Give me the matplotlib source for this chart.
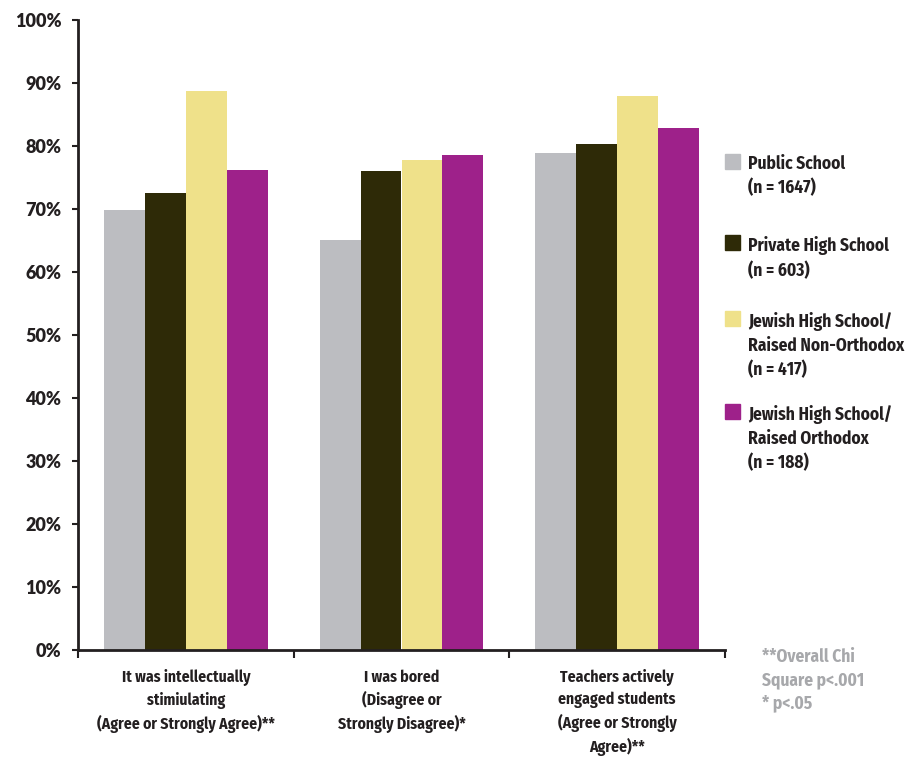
import matplotlib
matplotlib.use("Agg")
import matplotlib.pyplot as plt
from matplotlib import font_manager as fm
from matplotlib.patches import Rectangle
import numpy as np

categories = ["It was intellectually\nstimiulating\n(Agree or Strongly Agree)**",
              "I was bored\n(Disagree or\nStrongly Disagree)*",
              "Teachers actively\nengaged students\n(Agree or Strongly\nAgree)**"]
series_names = ["Public School\n(n = 1647)",
                "Private High School\n(n = 603)",
                "Jewish High School/\nRaised Non-Orthodox\n(n = 417)",
                "Jewish High School/\nRaised Orthodox\n(n = 188)"]
public = [69.9, 65.1, 78.9]
private = [72.5, 76.0, 80.3]
jewish_non_orth = [88.7, 77.7, 87.9]
jewish_orth = [76.2, 78.5, 82.8]
yticks = [0, 10, 20, 30, 40, 50, 60, 70, 80, 90, 100]
ytick_labels = [f"{v}%" for v in yticks]
footnote = "**Overall Chi\nSquare p<.001\n* p<.05"

colors = ["#bcbdc1", "#2e2a07", "#efe18a", "#9e218a"]
textc = "#231f20"

names = {f.name for f in fm.fontManager.ttflist}
cond = None
for cand in ["Fira Sans Condensed", "Roboto Condensed", "Liberation Sans Narrow",
             "Open Sans Condensed", "DejaVu Sans Condensed", "Noto Sans Condensed"]:
    if cand in names:
        cond = cand
        break
stretch = "normal"
if cond is None:
    cands = [f for f in fm.fontManager.ttflist
             if f.stretch in ("condensed", "semi-condensed", 75, 87.5) and "Sans" in f.name]
    if cands:
        cond = cands[0].name
        stretch = "condensed"
if cond is None:
    cond = "Roboto"
    fsz = 11
else:
    fsz = 12.5
fam = [cond, "DejaVu Sans"]
xfsz = fsz * 0.9

W, H = 909, 757
fig = plt.figure(figsize=(W / 100, H / 100), dpi=100)
ax = fig.add_axes([78 / W, (H - 650) / H, (725 - 78) / W, (650 - 20) / H])

x = np.arange(len(categories))
width = 0.19
offsets = [-1.5 * width, -0.5 * width, 0.5 * width, 1.5 * width]
for vals, off, c in zip([public, private, jewish_non_orth, jewish_orth], offsets, colors):
    ax.bar(x + off, vals, width=width, color=c, edgecolor="none", zorder=2)

ax.set_xlim(-0.5, 2.5)
ax.set_ylim(0, 100)
for s in ["top", "right"]:
    ax.spines[s].set_visible(False)
for s in ["left", "bottom"]:
    ax.spines[s].set_color(textc)
    ax.spines[s].set_linewidth(2)
    ax.spines[s].set_zorder(3)

ax.set_yticks(yticks)
ax.set_yticklabels(ytick_labels, fontfamily=["Lato", "DejaVu Sans"], fontweight="heavy",
                   fontsize=13, color=textc)
ax.tick_params(axis="y", direction="out", length=4, width=1.5, color=textc, pad=8)

ax.set_xticks(x)
ax.set_xticklabels(categories, fontfamily=fam, fontstretch=stretch, fontweight="bold",
                   fontsize=xfsz, color=textc, linespacing=1.42, va="top")
ax.tick_params(axis="x", which="major", length=0, pad=14)
ax.set_xticks([-0.5, 0.5, 1.5, 2.5], minor=True)
ax.tick_params(axis="x", which="minor", direction="out", length=6, width=1.5, color=textc)

# legend
sq_tops = [154, 235, 311, 404]
for name, c, top in zip(series_names, colors, sq_tops):
    fig.add_artist(Rectangle((725 / W, (H - top - 15) / H), 15 / W, 15 / H,
                             transform=fig.transFigure, color=c))
    fig.text(748 / W, (H - top - 1) / H, name, ha="left", va="top", fontfamily=fam,
             fontstretch=stretch, fontweight="bold", fontsize=fsz, color=textc,
             linespacing=1.4)

fig.text(762 / W, (H - 648) / H, footnote, ha="left", va="top", fontfamily=fam,
         fontstretch=stretch, fontweight="bold", fontsize=fsz, color="#a7a8ab",
         linespacing=1.4)

fig.savefig("out.png", dpi=100)
